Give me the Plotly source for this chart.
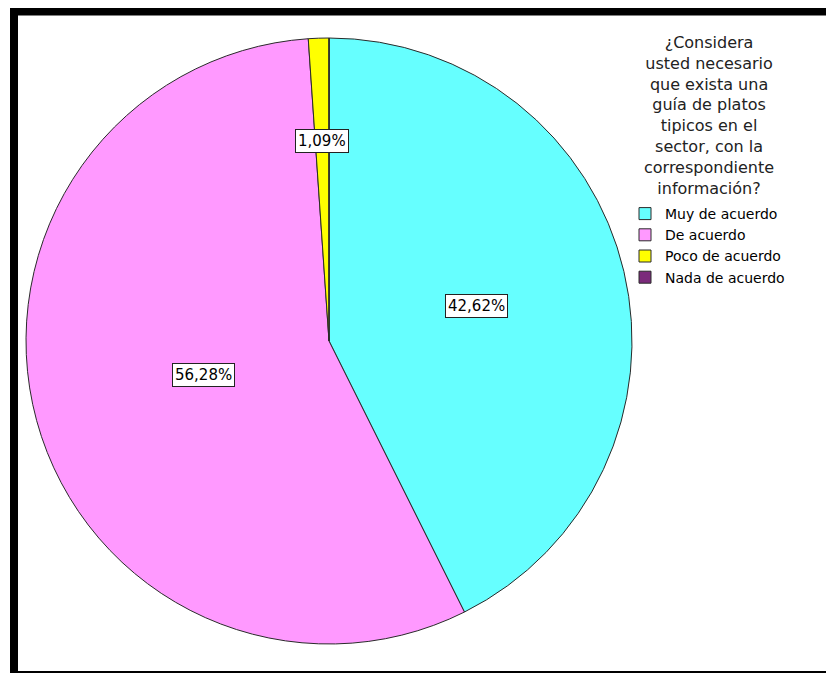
import math
import plotly.graph_objects as go

# categories and values (percent)
labels = ["Muy de acuerdo", "De acuerdo", "Poco de acuerdo", "Nada de acuerdo"]
values = [42.62, 56.28, 1.09, 0.0]
value_text = ["42,62%", "56,28%", "1,09%", ""]
colors = ["#66FFFF", "#FF99FF", "#FFFF00", "#7B2A7B"]

legend_title = ("¿Considera<br>usted necesario<br>que exista una<br>guía de platos<br>"
                "tipicos en el<br>sector, con la<br>correspondiente<br>información?")

# radial position of each label box, as a fraction of the radius
label_radius = [0.50, 0.43, 0.66, 0.5]

# page body has an 8px margin, so the figure is 8px smaller
W, H = 826, 665
L, R, T, B = 18, 202, 30, 29
pw, ph = W - L - R, H - T - B

fig = go.Figure(go.Pie(
    labels=labels,
    values=values,
    sort=False,
    direction="clockwise",
    rotation=0,
    textinfo="none",
    hoverinfo="label+percent",
    marker=dict(colors=colors, line=dict(color="#2a2a2a", width=1)),
))

# label boxes placed on the bisector of each slice
total = sum(values)
cum = 0.0
annotations = []
for v, txt, f in zip(values, value_text, label_radius):
    mid = (cum + v / 2) / total * 2 * math.pi
    cum += v
    if not txt:
        continue
    annotations.append(dict(
        x=0.5 + 0.5 * f * math.sin(mid), y=0.5 + 0.5 * f * math.cos(mid),
        xref="paper", yref="paper", xanchor="center", yanchor="middle",
        text=txt, showarrow=False,
        font=dict(family="DejaVu Sans", size=15, color="black"),
        bgcolor="white", bordercolor="#222", borderwidth=1, borderpad=2,
    ))


def px(x):
    return (x - L) / pw


def py(y):
    return (H - B - y) / ph


annotations.append(dict(
    x=px(701), y=py(23), xref="paper", yref="paper",
    xanchor="center", yanchor="top", align="center", showarrow=False,
    text=legend_title, font=dict(family="DejaVu Sans", size=16, color="#222"),
))

fig.update_layout(
    width=W, height=H,
    margin=dict(l=L, r=R, t=T, b=B),
    paper_bgcolor="white",
    plot_bgcolor="white",
    annotations=annotations,
    shapes=[dict(type="rect", xref="paper", yref="paper",
                 x0=px(6), x1=px(860), y0=py(667), y1=py(3.5),
                 line=dict(color="black", width=8))],
    legend=dict(
        x=px(617), xanchor="left", y=py(190), yanchor="top",
        font=dict(family="DejaVu Sans", size=14, color="black"),
        bgcolor="rgba(0,0,0,0)", traceorder="normal",
        itemwidth=30,
    ),
)

fig.write_html("out.html")
